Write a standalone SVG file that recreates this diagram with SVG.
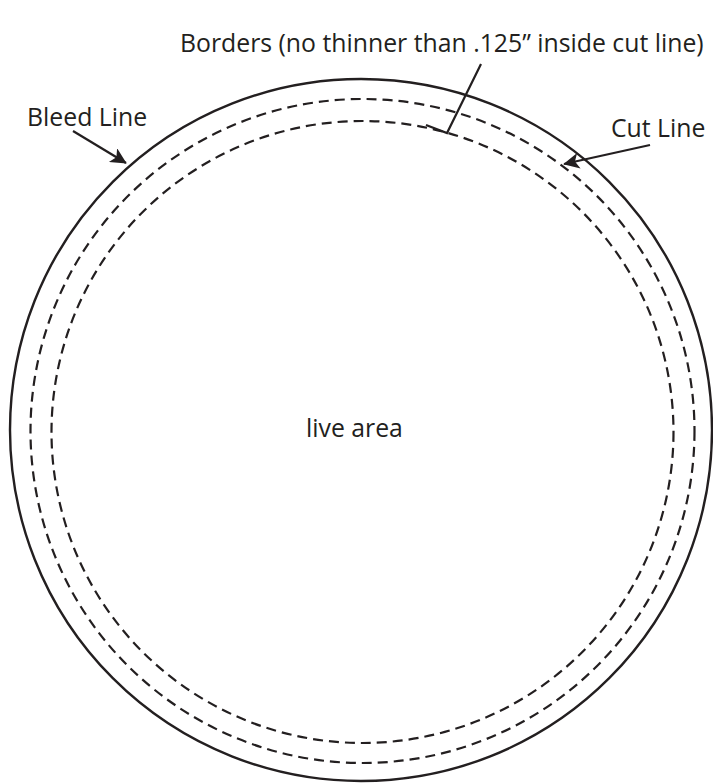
<svg xmlns="http://www.w3.org/2000/svg" width="713" height="783" viewBox="0 0 713 783">
<defs>
<style>
.t{font-family:"Open Sans","Liberation Sans",sans-serif;font-size:24.8px;fill:#231f20}
.solid{fill:none;stroke:#231f20;stroke-width:2.4}
.dash{fill:none;stroke:#231f20;stroke-width:2.2;stroke-dasharray:10 6}
.lead{fill:none;stroke:#231f20;stroke-width:2.2}
</style>
<marker id="ah" viewBox="0 0 10 10" refX="9.5" refY="5" markerWidth="26" markerHeight="16" markerUnits="userSpaceOnUse" orient="auto">
<path d="M0,0 L10,5 L0,10 L2.5,5 Z" fill="#231f20"/>
</marker>
</defs>
<rect width="713" height="783" fill="#fff"/>
<g id="bleed-circle"><circle class="solid" cx="361" cy="430" r="351"/></g>
<g id="cut-circle"><circle class="dash" cx="362.5" cy="431" r="332"/></g>
<g id="border-circle"><circle class="dash" cx="362.5" cy="432" r="311"/></g>
<g id="connectors">
<line class="lead" x1="73" y1="131" x2="126" y2="163" marker-end="url(#ah)"/>
<line class="lead" x1="650" y1="145" x2="564" y2="164" marker-end="url(#ah)"/>
<polyline class="lead" points="481,64 447,133 426,125"/>
</g>
<g id="labels">
<text class="t" x="180" y="52">Borders (no thinner than .125” inside cut line)</text>
<text class="t" x="27" y="126">Bleed Line</text>
<text class="t" x="611" y="137">Cut Line</text>
<text class="t" x="306" y="437">live area</text>
</g>
</svg>
